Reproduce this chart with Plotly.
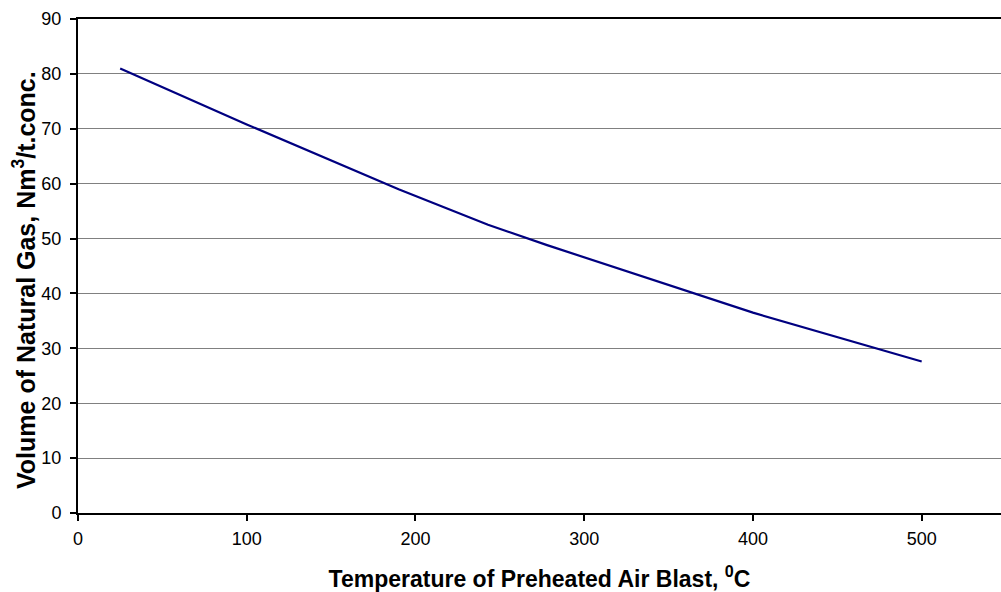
import plotly.graph_objects as go

# Air blast preheat temperature (deg C) vs natural gas volume (Nm3 per tonne of concentrate)
temperature = [25, 100, 190, 243, 278, 400, 500]
gas_volume = [81.0, 70.8, 59.0, 52.5, 48.8, 36.5, 27.6]

x_ticks = [0, 100, 200, 300, 400, 500]
y_ticks = [0, 10, 20, 30, 40, 50, 60, 70, 80, 90]

fig = go.Figure()
fig.add_trace(go.Scatter(
    x=temperature,
    y=gas_volume,
    mode="lines",
    line=dict(color="#000080", width=2.2),
    showlegend=False,
))

fig.update_layout(
    width=1001,
    height=592,
    margin=dict(l=78, r=0, t=19, b=79),
    paper_bgcolor="white",
    plot_bgcolor="white",
    font=dict(family="Arial, Liberation Sans, sans-serif", color="black", size=18),
    xaxis=dict(
        range=[0, 547],
        tickvals=x_ticks,
        ticks="outside",
        ticklen=6,
        tickwidth=2,
        tickcolor="black",
        showline=True,
        linecolor="black",
        linewidth=2,
        mirror=True,
        showgrid=False,
        zeroline=False,
        tickfont=dict(size=18),
        ticklabelstandoff=2,
        title=dict(
            text="<b>Temperature of Preheated Air Blast, <sup>0</sup>C</b>",
            font=dict(size=23),
            standoff=24,
        ),
    ),
    yaxis=dict(
        range=[0, 90],
        tickvals=y_ticks,
        ticks="outside",
        ticklen=6,
        tickwidth=2,
        tickcolor="black",
        showline=True,
        linecolor="black",
        linewidth=2,
        showgrid=True,
        gridcolor="#808080",
        gridwidth=1,
        zeroline=False,
        tickfont=dict(size=18),
        ticklabelstandoff=5,
    ),
    annotations=[
        dict(
            text="<b>Volume of Natural Gas, Nm<sup>3</sup>/t.conc.</b>",
            textangle=-90,
            xref="paper",
            yref="paper",
            x=-0.0585,
            y=0.4717,
            xanchor="center",
            yanchor="middle",
            showarrow=False,
            font=dict(size=25),
        )
    ],
)

fig.write_html("out.html")
